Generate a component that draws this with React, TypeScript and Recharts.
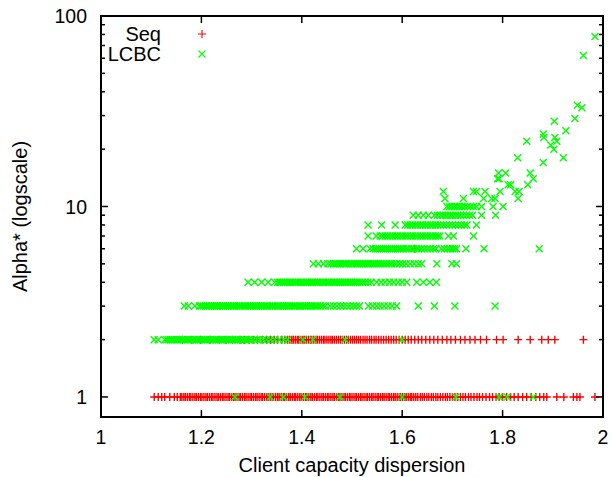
import { ScatterChart, Scatter, XAxis, YAxis, ReferenceArea, Legend, Label } from 'recharts';

// axis ticks
const xTicks = [1, 1.2, 1.4, 1.6, 1.8, 2];
const yTicks = [1, 2, 3, 4, 5, 6, 7, 8, 9, 10, 20, 30, 40, 50, 60, 70, 80, 90, 100];
const yLabelled = [1, 10, 100];

// Seq: x values per alpha level
const seqOne = [
  1.106, 1.114, 1.121, 1.127, 1.137, 1.146, 1.152, 1.158, 1.161, 1.165, 1.168, 1.172, 1.176, 1.179, 1.183,
  1.187, 1.19, 1.194, 1.198, 1.201, 1.205, 1.209, 1.212, 1.216, 1.22, 1.223, 1.227, 1.231, 1.234, 1.238,
  1.242, 1.245, 1.249, 1.253, 1.256, 1.26, 1.264, 1.267, 1.271, 1.275, 1.278, 1.282, 1.286, 1.289, 1.293,
  1.297, 1.3, 1.304, 1.308, 1.311, 1.315, 1.319, 1.322, 1.326, 1.33, 1.333, 1.337, 1.341, 1.344, 1.348,
  1.352, 1.355, 1.359, 1.363, 1.366, 1.37, 1.374, 1.377, 1.381, 1.385, 1.388, 1.392, 1.396, 1.399, 1.403,
  1.407, 1.41, 1.414, 1.418, 1.421, 1.425, 1.429, 1.432, 1.436, 1.44, 1.443, 1.447, 1.451, 1.454, 1.458,
  1.462, 1.465, 1.469, 1.473, 1.476, 1.48, 1.484, 1.487, 1.491, 1.495, 1.498, 1.502, 1.506, 1.509, 1.513,
  1.517, 1.52, 1.524, 1.528, 1.531, 1.535, 1.539, 1.542, 1.546, 1.55, 1.553, 1.557, 1.561, 1.564, 1.568,
  1.572, 1.575, 1.579, 1.583, 1.586, 1.59, 1.594, 1.597, 1.601, 1.605, 1.608, 1.612, 1.616, 1.619, 1.623,
  1.627, 1.631, 1.636, 1.64, 1.644, 1.649, 1.653, 1.658, 1.662, 1.667, 1.671, 1.676, 1.681, 1.686, 1.69,
  1.695, 1.7, 1.705, 1.71, 1.716, 1.721, 1.726, 1.732, 1.737, 1.743, 1.749, 1.754, 1.76, 1.767, 1.774,
  1.78, 1.787, 1.793, 1.8, 1.808, 1.816, 1.823, 1.831, 1.84, 1.848, 1.857, 1.866, 1.874, 1.882, 1.888,
  1.908, 1.922, 1.941, 1.948, 1.954, 1.984,
];
const seqTwo = [
  1.162, 1.181, 1.198, 1.217, 1.236, 1.249, 1.262, 1.277, 1.286, 1.295, 1.303, 1.312, 1.321, 1.33, 1.338,
  1.345, 1.352, 1.36, 1.366, 1.372, 1.376, 1.38, 1.383, 1.387, 1.391, 1.394, 1.398, 1.402, 1.405, 1.409,
  1.413, 1.417, 1.42, 1.424, 1.428, 1.431, 1.435, 1.439, 1.443, 1.446, 1.45, 1.454, 1.458, 1.461, 1.465,
  1.469, 1.473, 1.477, 1.481, 1.485, 1.489, 1.493, 1.497, 1.501, 1.505, 1.509, 1.513, 1.517, 1.522, 1.526,
  1.53, 1.535, 1.539, 1.544, 1.548, 1.553, 1.558, 1.563, 1.568, 1.573, 1.578, 1.583, 1.588, 1.594, 1.6,
  1.606, 1.612, 1.618, 1.625, 1.632, 1.639, 1.647, 1.655, 1.663, 1.671, 1.68, 1.689, 1.697, 1.706, 1.716,
  1.725, 1.735, 1.745, 1.756, 1.768, 1.788, 1.801, 1.831, 1.855, 1.878, 1.891, 1.904, 1.961,
];
const seqSix = [1.625];

// LCBC: x values per alpha level
const lcbcOne = [1.267, 1.337, 1.363, 1.406, 1.476, 1.6, 1.707, 1.793, 1.809, 1.861];
const lcbcTwo = [
  1.106, 1.114, 1.127, 1.131, 1.135, 1.139, 1.142, 1.146, 1.15, 1.153, 1.157, 1.161, 1.164, 1.168, 1.172,
  1.175, 1.179, 1.183, 1.186, 1.19, 1.194, 1.197, 1.201, 1.205, 1.208, 1.212, 1.216, 1.219, 1.223, 1.227,
  1.23, 1.234, 1.238, 1.241, 1.245, 1.249, 1.252, 1.256, 1.26, 1.263, 1.267, 1.271, 1.274, 1.278, 1.282,
  1.286, 1.29, 1.295, 1.3, 1.305, 1.311, 1.317, 1.323, 1.33, 1.338, 1.346, 1.355, 1.364, 1.372, 1.402,
  1.422, 1.486, 1.599,
];
const lcbcThree = [
  1.166, 1.174, 1.187, 1.196, 1.2, 1.204, 1.208, 1.211, 1.215, 1.219, 1.222, 1.226, 1.23, 1.233, 1.237,
  1.241, 1.244, 1.248, 1.252, 1.255, 1.259, 1.263, 1.266, 1.27, 1.274, 1.277, 1.281, 1.285, 1.288, 1.292,
  1.296, 1.299, 1.303, 1.307, 1.31, 1.314, 1.318, 1.321, 1.325, 1.329, 1.332, 1.336, 1.34, 1.343, 1.347,
  1.351, 1.354, 1.358, 1.362, 1.365, 1.369, 1.373, 1.376, 1.38, 1.384, 1.387, 1.391, 1.395, 1.398, 1.402,
  1.406, 1.409, 1.413, 1.417, 1.42, 1.424, 1.428, 1.432, 1.437, 1.442, 1.447, 1.456, 1.463, 1.47, 1.477,
  1.483, 1.49, 1.496, 1.503, 1.509, 1.515, 1.533, 1.541, 1.549, 1.556, 1.564, 1.572, 1.58, 1.589, 1.632,
  1.664, 1.705, 1.785,
];
const lcbcFour = [
  1.293, 1.306, 1.32, 1.333, 1.346, 1.352, 1.356, 1.36, 1.364, 1.367, 1.371, 1.375, 1.378, 1.382, 1.386,
  1.389, 1.393, 1.397, 1.4, 1.404, 1.408, 1.411, 1.415, 1.419, 1.422, 1.426, 1.43, 1.433, 1.437, 1.441,
  1.444, 1.448, 1.452, 1.455, 1.459, 1.463, 1.466, 1.47, 1.474, 1.477, 1.481, 1.485, 1.488, 1.492, 1.496,
  1.499, 1.503, 1.507, 1.511, 1.516, 1.521, 1.526, 1.532, 1.538, 1.549, 1.558, 1.566, 1.575, 1.583, 1.592,
  1.6, 1.609, 1.629, 1.642, 1.655, 1.668,
];
const lcbcFive = [
  1.423, 1.433, 1.443, 1.452, 1.458, 1.463, 1.467, 1.471, 1.475, 1.478, 1.482, 1.486, 1.489, 1.493, 1.497,
  1.5, 1.504, 1.508, 1.511, 1.515, 1.519, 1.522, 1.526, 1.53, 1.533, 1.537, 1.541, 1.544, 1.548, 1.552,
  1.556, 1.56, 1.564, 1.569, 1.574, 1.579, 1.584, 1.589, 1.595, 1.601, 1.608, 1.616, 1.624, 1.632, 1.639,
  1.669, 1.699, 1.708,
];
const lcbcSix = [
  1.509, 1.522, 1.536, 1.542, 1.547, 1.551, 1.555, 1.559, 1.563, 1.567, 1.571, 1.575, 1.579, 1.583, 1.587,
  1.591, 1.595, 1.599, 1.603, 1.608, 1.613, 1.618, 1.623, 1.628, 1.633, 1.638, 1.644, 1.65, 1.656, 1.662,
  1.667, 1.678, 1.684, 1.69, 1.695, 1.7, 1.704, 1.708, 1.727, 1.763, 1.873,
];
const lcbcSeven = [
  1.532, 1.548, 1.556, 1.561, 1.566, 1.571, 1.576, 1.581, 1.586, 1.591, 1.596, 1.601, 1.606, 1.611, 1.616,
  1.621, 1.626, 1.631, 1.636, 1.641, 1.646, 1.651, 1.656, 1.661, 1.666, 1.671, 1.675, 1.692, 1.702, 1.742,
];
const lcbcEight = [
  1.532, 1.559, 1.586, 1.606, 1.611, 1.616, 1.621, 1.626, 1.631, 1.636, 1.641, 1.646, 1.651, 1.656, 1.661,
  1.666, 1.671, 1.676, 1.682, 1.688, 1.694, 1.7, 1.706, 1.712, 1.718, 1.724, 1.729, 1.748,
];
const lcbcNine = [
  1.622, 1.632, 1.642, 1.652, 1.664, 1.67, 1.676, 1.681, 1.686, 1.691, 1.696, 1.701, 1.706, 1.711, 1.716,
  1.722, 1.728, 1.734, 1.74, 1.758, 1.786,
];
const lcbcTen = [
  1.689, 1.694, 1.699, 1.704, 1.709, 1.714, 1.719, 1.724, 1.73, 1.736, 1.742, 1.748, 1.758, 1.781, 1.801,
];
// scattered high values
const lcbcUpperX = [
  1.685, 1.722, 1.762, 1.778, 1.785, 1.831, 1.682, 1.742, 1.748, 1.765, 1.795, 1.825, 1.833, 1.811, 1.816,
  1.85, 1.79, 1.793, 1.861, 1.792, 1.806, 1.855, 1.881, 1.83, 1.921, 1.902, 1.896, 1.848, 1.908, 1.882,
  1.904, 1.881, 1.926, 1.903, 1.944, 1.958, 1.949, 1.961, 1.984,
];
const lcbcUpperY = [
  11, 11, 11, 11, 11, 11, 12, 12, 12, 12, 12, 12, 12, 13, 13,
  13, 14, 14, 14, 15, 15, 15, 17, 18, 18, 20, 21, 22, 22, 23,
  23, 24, 25, 28, 29, 33, 34, 62, 78,
];

const level = (xs: number[], y: number) => xs.map((x) => ({ x, y }));

const seqData = [...level(seqOne, 1), ...level(seqTwo, 2), ...level(seqSix, 6)];
const lcbcData = [
  ...level(lcbcOne, 1),
  ...level(lcbcTwo, 2),
  ...level(lcbcThree, 3),
  ...level(lcbcFour, 4),
  ...level(lcbcFive, 5),
  ...level(lcbcSix, 6),
  ...level(lcbcSeven, 7),
  ...level(lcbcEight, 8),
  ...level(lcbcNine, 9),
  ...level(lcbcTen, 10),
  ...lcbcUpperX.map((x, i) => ({ x, y: lcbcUpperY[i] })),
];

const W = 613;
const H = 477;
const LEFT = 101;
const RIGHT = 603;
const TOP = 16;
const BOTTOM = 417;
const Y_MIN = 0.785;
const FONT = '"Liberation Sans", Arial, sans-serif';
const FS = 19.5;
const FS_TITLE = 20;
const RED = '#ff0000';
const GREEN = '#00ff00';
const MARK_W = 1.4;

const plusPath = (cx: number, cy: number) => `M${cx - 4},${cy}H${cx + 4}M${cx},${cy - 4}V${cy + 4}`;
const crossPath = (cx: number, cy: number) =>
  `M${cx - 3.5},${cy - 3.5}L${cx + 3.5},${cy + 3.5}M${cx + 3.5},${cy - 3.5}L${cx - 3.5},${cy + 3.5}`;

const PlusMark = (props: any) => (
  <path d={plusPath(props.cx, props.cy)} stroke={RED} strokeWidth={MARK_W} fill="none" />
);
const CrossMark = (props: any) => (
  <path d={crossPath(props.cx, props.cy)} stroke={GREEN} strokeWidth={MARK_W} fill="none" />
);

function XTick(props: any) {
  const { x, payload } = props;
  return (
    <g>
      <line x1={x} x2={x} y1={BOTTOM} y2={BOTTOM - 7} stroke="#000" strokeWidth={1.5} />
      <line x1={x} x2={x} y1={TOP} y2={TOP + 7} stroke="#000" strokeWidth={1.5} />
      <text x={x} y={BOTTOM + 13} dy="0.71em" textAnchor="middle" fontFamily={FONT} fontSize={FS} fill="#000">
        {payload.value}
      </text>
    </g>
  );
}

function YTick(props: any) {
  const { y, payload } = props;
  const major = yLabelled.includes(payload.value);
  const len = major ? 7 : 4;
  return (
    <g>
      <line x1={LEFT} x2={LEFT + len} y1={y} y2={y} stroke="#000" strokeWidth={1.5} />
      <line x1={RIGHT} x2={RIGHT - len} y1={y} y2={y} stroke="#000" strokeWidth={1.5} />
      {major && (
        <text x={LEFT - 14} y={y} dy="0.36em" textAnchor="end" fontFamily={FONT} fontSize={FS} fill="#000">
          {payload.value}
        </text>
      )}
    </g>
  );
}

function LegendBox() {
  return (
    <svg width={120} height={44}>
      <text x={61} y={12} dy="0.36em" textAnchor="end" fontFamily={FONT} fontSize={FS_TITLE} fill="#000">
        Seq
      </text>
      <path d={plusPath(102, 12)} stroke={RED} strokeWidth={1.1} fill="none" />
      <text x={61} y={32} dy="0.36em" textAnchor="end" fontFamily={FONT} fontSize={FS_TITLE} fill="#000">
        LCBC
      </text>
      <path d={crossPath(102, 32)} stroke={GREEN} strokeWidth={1.1} fill="none" />
    </svg>
  );
}

export default function App() {
  return (
    <div style={{ position: 'absolute', left: 0, top: 0, width: W, height: H, background: '#fff' }}>
      <ScatterChart width={W} height={H} margin={{ top: TOP, right: W - RIGHT, bottom: 0, left: 0 }}>
        <XAxis
          dataKey="x"
          type="number"
          domain={[1, 2]}
          ticks={xTicks}
          interval={0}
          height={H - BOTTOM}
          axisLine={false}
          tickLine={false}
          tickSize={0}
          tick={<XTick />}
          allowDataOverflow
        >
          <Label
            value="Client capacity dispersion"
            position="insideBottom"
            offset={5}
            fontFamily={FONT}
            fontSize={FS_TITLE}
            fill="#000"
          />
        </XAxis>
        <YAxis
          dataKey="y"
          type="number"
          scale="log"
          domain={[Y_MIN, 100]}
          ticks={yTicks}
          interval={0}
          width={LEFT}
          axisLine={false}
          tickLine={false}
          tickSize={0}
          tick={<YTick />}
          allowDataOverflow
        >
          <Label
            value="Alpha* (logscale)"
            angle={-90}
            position="insideLeft"
            offset={20}
            textAnchor="middle"
            style={{ textAnchor: 'middle' }}
            fontFamily={FONT}
            fontSize={FS_TITLE}
            fill="#000"
          />
        </YAxis>
        <Legend
          layout="horizontal"
          verticalAlign="middle"
          align="center"
          content={() => <LegendBox />}
          wrapperStyle={{ left: 100, top: 22, width: 120, height: 44 }}
        />
        <Scatter name="Seq" data={seqData} shape={PlusMark} isAnimationActive={false} />
        <Scatter name="LCBC" data={lcbcData} shape={CrossMark} isAnimationActive={false} />
        <ReferenceArea
          x1={1}
          x2={2}
          y1={Y_MIN}
          y2={100}
          fill="none"
          stroke="#000"
          strokeWidth={2}
          ifOverflow="visible"
        />
      </ScatterChart>
    </div>
  );
}
